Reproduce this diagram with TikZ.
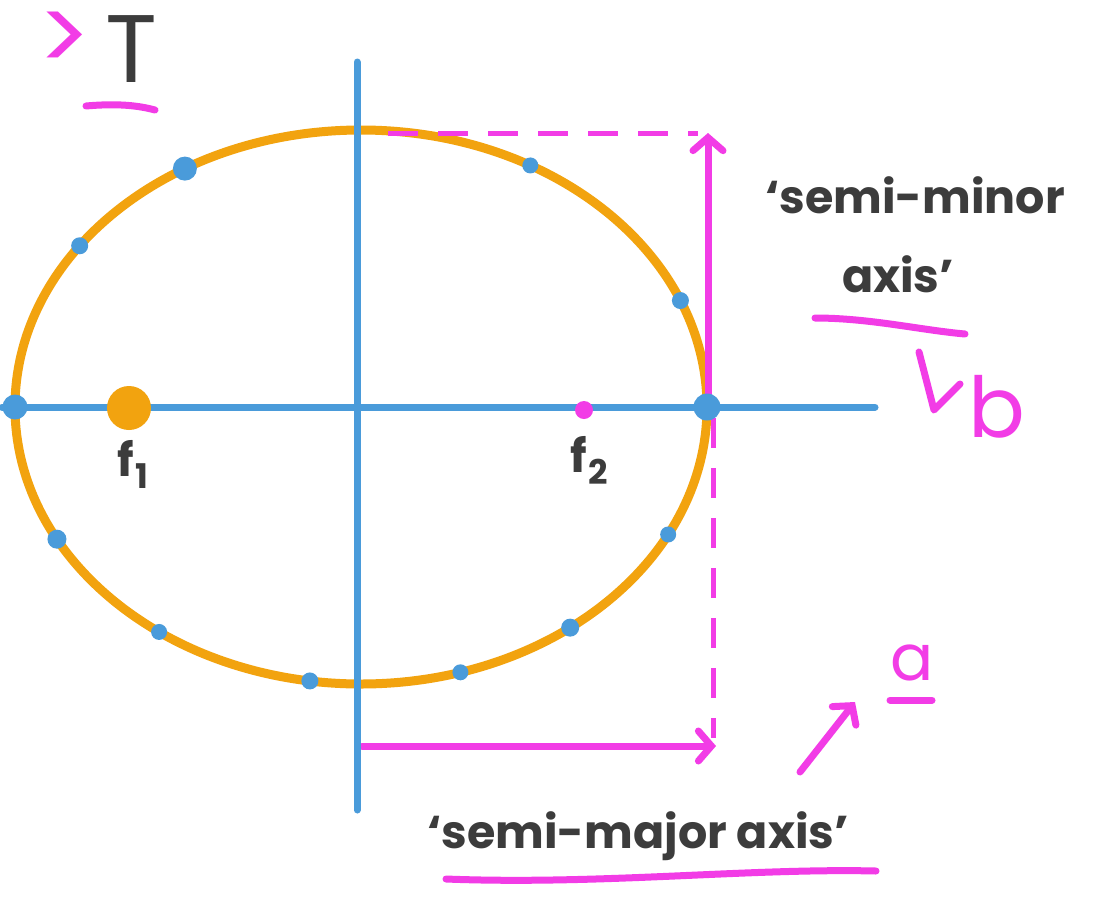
\documentclass[tikz,border=0pt]{standalone}
\usepackage{fontspec}
\setmainfont{Poppins}
\usetikzlibrary{arrows.meta,calc}
\definecolor{orng}{HTML}{F2A30F}
\definecolor{blu}{HTML}{4A9BDA}
\definecolor{mag}{HTML}{F23CE6}
\definecolor{ink}{HTML}{3C3C3C}
\begin{document}
\begin{tikzpicture}[x=1pt,y=-1pt,
  axisline/.style={blu,line width=7pt,line cap=round},
  orbit/.style={orng,line width=9pt},
  bdot/.style={circle,fill=blu,inner sep=0pt,minimum size=#1},
  mline/.style={mag,line width=7pt,line cap=round},
  mdash/.style={mag,line width=5pt,dash pattern=on 30pt off 20pt},
  marrow/.style={mline,-{Straight Barb[length=13pt,width=30pt,line cap=round]}},
  lbl/.style={ink,font=\fontsize{46}{48}\selectfont\bfseries,inner sep=0pt},
  mlbl/.style={mag,inner sep=0pt}]
\useasboundingbox (0,0) rectangle (1098,898);
\fill[white] (0,0) rectangle (1098,898);

% coordinates
\coordinate (c) at (361,407);
\coordinate (vtop) at (357,62);
\coordinate (vbot) at (357,810);
\coordinate (hl) at (2,407);
\coordinate (hr) at (875,407);

% orbit
\draw[orbit] (c) ellipse [x radius=346pt, y radius=277pt];

% magenta dimension lines
\coordinate (btop) at (708,133);
\coordinate (bbase) at (708,400);
\coordinate (dtopl) at (388,133);
\coordinate (dtopr) at (698,133);
\coordinate (dvt) at (713,418);
\coordinate (dvb) at (713,738);
\coordinate (aleft) at (362,746);
\coordinate (aright) at (716,746);
\draw[mdash] (dtopl) -- (dtopr);
\draw[marrow] (bbase) -- (btop);
\draw[mdash] (dvt) -- (dvb);
\draw[marrow] (aleft) -- (aright);

% axes
\draw[axisline] (hl) -- (hr);
\draw[axisline] (vtop) -- (vbot);

% dots on orbit
\node[bdot=24pt] (d1) at ($(c)+(120.6:346pt and 277pt)$) {};
\node[bdot=17pt] (d2) at ($(c)+(144.4:346pt and 277pt)$) {};
\node[bdot=16pt] (d3) at ($(c)+(60.7:346pt and 277pt)$) {};
\node[bdot=17pt] (d4) at ($(c)+(22.6:346pt and 277pt)$) {};
\node[bdot=25pt] (d5) at ($(c)+(180:346pt and 277pt)$) {};
\node[bdot=27pt] (d6) at ($(c)+(0:346pt and 277pt)$) {};
\node[bdot=19pt] (d7) at ($(c)+(208.5:346pt and 277pt)$) {};
\node[bdot=16pt] (d8) at ($(c)+(234.3:346pt and 277pt)$) {};
\node[bdot=17pt] (d9) at ($(c)+(261.5:346pt and 277pt)$) {};
\node[bdot=16pt] (d10) at ($(c)+(286.7:346pt and 277pt)$) {};
\node[bdot=18pt] (d11) at ($(c)+(307.2:346pt and 277pt)$) {};
\node[bdot=16pt] (d12) at ($(c)+(332.6:346pt and 277pt)$) {};

% foci
\node[circle,fill=orng,inner sep=0pt,minimum size=44pt] (f1) at (129,408) {};
\node[circle,fill=mag,inner sep=0pt,minimum size=18pt] (f2) at (584,410) {};
\node[lbl,anchor=north] (f1l) at (133,440) {f\kern1pt\raisebox{-12pt}{\fontsize{34}{36}\selectfont 1}};
\node[lbl,anchor=north] (f2l) at (589,436) {f\kern1pt\raisebox{-12pt}{\fontsize{34}{36}\selectfont 2}};

% title
\node[mlbl,font=\fontsize{100}{100}\selectfont] (gt) at (64,42) {>};
\node[ink,inner sep=0pt,font=\fontsize{96}{98}\selectfont,anchor=base] (T) at (131,82) {T};
\coordinate (tu1) at (86,106);
\coordinate (tu2) at (155,110);
\draw[mline] (tu1) .. controls (120,103) and (140,106) .. (tu2);

% semi-minor axis label
\node[lbl,anchor=base] (minor1) at (915,213) {‘semi-minor};
\node[lbl,anchor=base] (minor2) at (898,292) {axis’};
\coordinate (mu1) at (815,318);
\coordinate (mu2) at (965,334);
\draw[mline] (mu1) .. controls (870,318) and (920,330) .. (mu2);
\coordinate (v1) at (919,352);
\coordinate (v2) at (934,410);
\coordinate (v3) at (960,384);
\draw[mline,line join=round] (v1) -- (v2) -- (v3);
\node[mlbl,font=\fontsize{84}{86}\selectfont,anchor=base] (b) at (997,437) {b};

% semi-major axis label
\node[lbl,anchor=base] (major) at (638,848) {‘semi-major axis’};
\coordinate (ju1) at (446,879);
\coordinate (ju2) at (876,871);
\draw[mline] (ju1) .. controls (600,885) and (750,868) .. (ju2);
\coordinate (aa1) at (800,772);
\coordinate (aa2) at (855,702);
\draw[marrow] (aa1) -- (aa2);
\node[mlbl,font=\fontsize{64}{66}\selectfont,anchor=base] (a) at (912,680) {a};
\coordinate (au1) at (890,700);
\coordinate (au2) at (932,700);
\draw[mline] (au1) -- (au2);
\end{tikzpicture}
\end{document}
